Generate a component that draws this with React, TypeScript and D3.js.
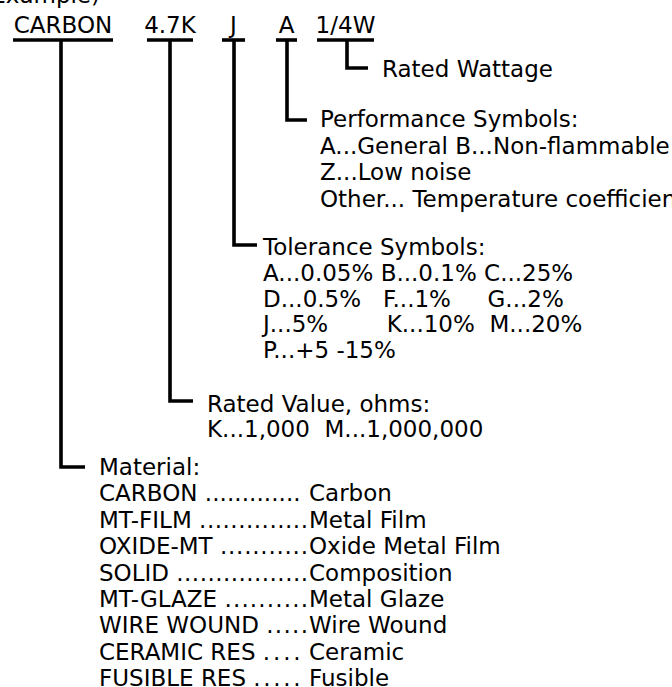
import React, { useEffect, useRef } from "react";
import * as d3 from "d3";

// code string shown on top, split in its parts
const codeParts = ["CARBON", "4.7K", "J", "A", "1/4W"];

// explanation blocks, one per code part (right to left in the picture)
const wattageLines = ["Rated Wattage"];
const performanceLines = [
  "Performance Symbols:",
  "A...General B...Non-flammable",
  "Z...Low noise",
  "Other... Temperature coefficient",
];
const toleranceLines = [
  "Tolerance Symbols:",
  "A...0.05% B...0.1% C...25%",
  "D...0.5%   F...1%     G...2%",
  "J...5%        K...10%  M...20%",
  "P...+5 -15%",
];
const ratedValueLines = ["Rated Value, ohms:", "K...1,000  M...1,000,000"];
const materialCodes = [
  "CARBON",
  "MT-FILM",
  "OXIDE-MT",
  "SOLID",
  "MT-GLAZE",
  "WIRE WOUND",
  "CERAMIC RES",
  "FUSIBLE RES",
];
const materialLeaders = [
  "............. ",
  "..............",
  "...........",
  ".................",
  "..........",
  ".....",
  ".... ",
  "..... ",
];
const materialNames = [
  "Carbon",
  "Metal Film",
  "Oxide Metal Film",
  "Composition",
  "Metal Glaze",
  "Wire Wound",
  "Ceramic",
  "Fusible",
];

const width = 672;
const height = 687;
const fontSize = 23;
const topBaseline = 33;
const underlineY = 40;
const stroke = 3.6;
const spaceW = fontSize * 0.318;

// layout of each code part: underline extent, stem, bend and its text block
const parts = [
  { x1: 13, x2: 113, stem: 61, bendY: 467, tickEnd: 85, textX: 99, y0: 475, step: 26.4 },
  { x1: 147, x2: 193, stem: 170, bendY: 401, tickEnd: 193, textX: 207, y0: 412, step: 25.3 },
  { x1: 222, x2: 245, stem: 234, bendY: 245, tickEnd: 257, textX: 263, y0: 255, step: 25.8 },
  { x1: 276, x2: 297, stem: 287, bendY: 120, tickEnd: 307, textX: 320, y0: 127, step: 26.7 },
  { x1: 317, x2: 374, stem: 347, bendY: 68, tickEnd: 368, textX: 382, y0: 77, step: 26 },
];

const blocks = [[], ratedValueLines, toleranceLines, performanceLines, wattageLines];
const nameColumn = 309;

const line = d3.line<[number, number]>();

export default function App() {
  const svgRef = useRef<SVGSVGElement>(null);
  const mat = parts[0];
  const matRows = d3.range(materialCodes.length).map((i) => mat.y0 + mat.step * (i + 1));

  // dot leaders run from just after the code to the name column
  useEffect(() => {
    const svg = d3.select(svgRef.current);
    svg.selectAll<SVGGElement, unknown>("g.mat-row").each(function (_, i) {
      const g = d3.select(this);
      const code = g.select<SVGTextElement>("text.code").node();
      if (!code) return;
      const raw = materialLeaders[i];
      const trailing = raw.endsWith(" ");
      const start = mat.textX + code.getComputedTextLength() + spaceW;
      const end = nameColumn - (trailing ? spaceW : 0) - 1;
      g.select("text.leader")
        .attr("x", start)
        .attr("text-anchor", "start")
        .attr("textLength", end - start)
        .attr("lengthAdjust", "spacing")
        .text(raw.trim());
    });
  }, []);

  return (
    <svg
      ref={svgRef}
      width={width}
      height={height}
      style={{ position: "absolute", left: 0, top: 0, background: "#fff" }}
      fontFamily="DejaVu Sans, sans-serif"
      fontSize={fontSize}
      fill="#000"
    >
      <text x={100} y={3} textAnchor="end">
        Example)
      </text>

      {codeParts.map((c, i) => {
        const p = parts[i];
        return (
          <g key={c}>
            <text x={(p.x1 + p.x2) / 2} y={topBaseline} textAnchor="middle">
              {c}
            </text>
            <path
              d={line([[p.x1, underlineY], [p.x2, underlineY]]) || ""}
              stroke="#000"
              strokeWidth={stroke}
              fill="none"
            />
            <path
              d={line([[p.stem, underlineY], [p.stem, p.bendY], [p.tickEnd, p.bendY]]) || ""}
              stroke="#000"
              strokeWidth={stroke}
              strokeLinejoin="miter"
              fill="none"
            />
            {blocks[i].map((t, j) => (
              <text key={j} x={p.textX} y={p.y0 + p.step * j} style={{ whiteSpace: "pre" }}>
                {t}
              </text>
            ))}
          </g>
        );
      })}

      <text x={mat.textX} y={mat.y0}>
        Material:
      </text>
      {materialCodes.map((m, i) => (
        <g key={m} className="mat-row">
          <text className="code" x={mat.textX} y={matRows[i]}>
            {m}
          </text>
          <text
            className="leader"
            x={nameColumn}
            y={matRows[i]}
            textAnchor="end"
            style={{ whiteSpace: "pre" }}
          >
            {materialLeaders[i]}
          </text>
          <text x={nameColumn} y={matRows[i]}>
            {materialNames[i]}
          </text>
        </g>
      ))}
    </svg>
  );
}
